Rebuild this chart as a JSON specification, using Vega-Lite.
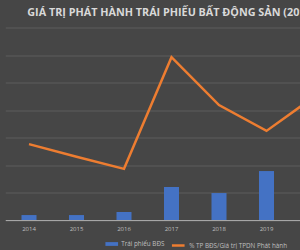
{
  "$schema": "https://vega.github.io/schema/vega-lite/v6.json",
  "autosize": "none",
  "width": 294.75,
  "height": 192.5,
  "padding": {"left": 5.25, "top": 27.5, "right": 0, "bottom": 30},
  "background": "#464646",
  "title": {
    "text": "GIÁ TRỊ PHÁT HÀNH TRÁI PHIẾU BẤT ĐỘNG SẢN (2014-2020)",
    "anchor": "start",
    "frame": "group",
    "dx": 22,
    "offset": 0.5,
    "baseline": "alphabetic",
    "font": "Open Sans",
    "fontWeight": "bold",
    "fontSize": 10.8,
    "color": "#d9d9d9"
  },
  "config": {
    "view": {"stroke": null},
    "font": "Open Sans"
  },
  "data": {
    "values": [
      {"year": "2014", "bds": 3.6, "pct": 13.8},
      {"year": "2015", "bds": 3.6, "pct": 11.5},
      {"year": "2016", "bds": 5.8, "pct": 9.3},
      {"year": "2017", "bds": 24, "pct": 29.6},
      {"year": "2018", "bds": 19.6, "pct": 20.9},
      {"year": "2019", "bds": 35.6, "pct": 16.2},
      {"year": "2020", "bds": null, "pct": 22.4}
    ]
  },
  "encoding": {
    "x": {
      "field": "year",
      "type": "nominal",
      "scale": {"paddingInner": 0, "paddingOuter": 0, "range": [0, 332.5]},
      "axis": {
        "title": null,
        "labelAngle": 0,
        "ticks": false,
        "labelFontSize": 6,
        "labelColor": "#bfbfbf",
        "labelPadding": 5,
        "labelExpr": "datum.label == '2020' ? '' : datum.label",
        "domainColor": "#a6a6a6",
        "domainWidth": 1
      }
    }
  },
  "layer": [
    {
      "mark": {"type": "bar", "size": 15},
      "encoding": {
        "y": {
          "field": "bds",
          "type": "quantitative",
          "scale": {"domain": [0, 140]},
          "axis": {
            "title": null,
            "labels": false,
            "ticks": false,
            "domain": false,
            "values": [0, 20, 40, 60, 80, 100, 120, 140],
            "gridColor": "#5c5c5c",
            "gridWidth": 1
          }
        },
        "color": {
          "datum": "Trái phiếu BĐS",
          "scale": {"range": ["#4472c4"]},
          "legend": {
            "title": null,
            "orient": "none",
            "legendX": 100,
            "legendY": 210,
            "symbolType": "M-1,-0.3H1V0.3H-1Z",
            "symbolSize": 160,
            "symbolStrokeWidth": 0,
            "labelFontSize": 6.3,
            "labelColor": "#bfbfbf",
            "labelOffset": 3
          }
        }
      }
    },
    {
      "mark": {"type": "line", "strokeWidth": 2.5},
      "encoding": {
        "y": {
          "field": "pct",
          "type": "quantitative",
          "scale": {"domain": [0, 35]},
          "axis": null
        },
        "stroke": {
          "datum": "% TP BĐS/Giá trị TPDN Phát hành",
          "scale": {"range": ["#ed7d31"]},
          "legend": {
            "title": null,
            "orient": "none",
            "legendX": 165,
            "legendY": 210,
            "symbolType": "stroke",
            "symbolSize": 160,
            "symbolStrokeWidth": 2.5,
            "labelFontSize": 6.3,
            "labelColor": "#bfbfbf",
            "labelOffset": 3
          }
        }
      }
    }
  ],
  "resolve": {"scale": {"y": "independent"}}
}
